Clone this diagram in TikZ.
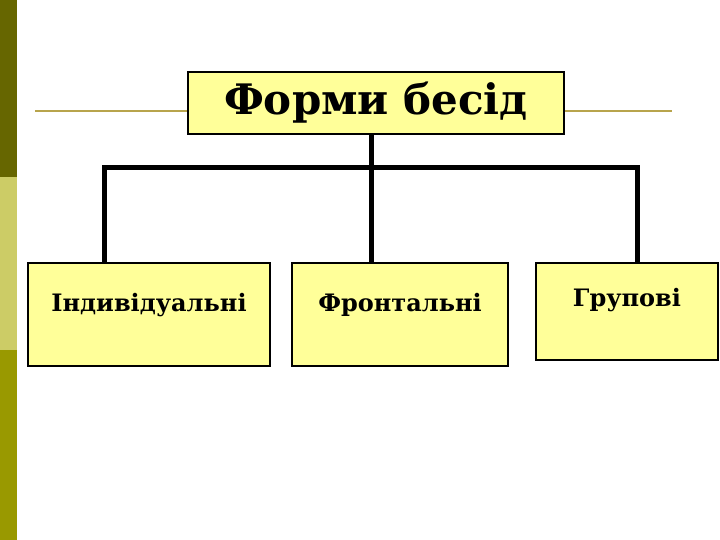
\documentclass[tikz,border=0pt]{standalone}
\usepackage{fontspec}
\setmainfont{DejaVu Serif}
\definecolor{barDark}{HTML}{666600}
\definecolor{barLight}{HTML}{CCCC66}
\definecolor{barOlive}{HTML}{999900}
\definecolor{ruleGold}{HTML}{B8A44C}
\definecolor{boxYellow}{HTML}{FFFF99}
\begin{document}
\begin{tikzpicture}[x=1pt, y=-1pt,
    formbox/.style={draw=black, line width=2.5pt, fill=boxYellow, inner sep=0pt},
    kindtext/.style={font=\fontsize{24}{28}\selectfont\bfseries, text height=17pt},
    link/.style={line width=5pt}]
    \useasboundingbox (0,0) rectangle (720,540);
    \fill[white] (0,0) rectangle (720,540);

    % Side bars
    \fill[barDark] (0,0) rectangle (17,177);
    \fill[barLight] (0,177) rectangle (17,350);
    \fill[barOlive] (0,350) rectangle (17,540);

    % Title rule
    \draw[ruleGold, line width=1.5pt] (35,111) -- (672,111);

    % Title box
    \node[formbox, minimum width=376pt, minimum height=62pt] (title) at (376,103)
        {\fontsize{42}{48}\selectfont\bfseries Форми бесід};

    % Kinds of talks
    \node[formbox, kindtext, text depth=24pt, minimum width=242pt, minimum height=103pt] (indiv) at (149,314.5)
        {Індивідуальні};
    \node[formbox, kindtext, text depth=24pt, minimum width=216pt, minimum height=103pt] (front) at (400,314.5)
        {Фронтальні};
    \node[formbox, kindtext, text depth=28pt, minimum width=182pt, minimum height=97pt] (group) at (627,311.5)
        {Групові};

    % Connectors
    \coordinate (j1) at (104,168);
    \coordinate (j2) at (371,168);
    \coordinate (j3) at (637,168);
    \draw[link] (title.south -| j2) -- (j2);
    \draw[link, line cap=rect] (j1) -- (j3);
    \draw[link] (j1) -- (j1 |- indiv.north);
    \draw[link] (j2) -- (j2 |- front.north);
    \draw[link] (j3) -- (j3 |- group.north);
\end{tikzpicture}
\end{document}
